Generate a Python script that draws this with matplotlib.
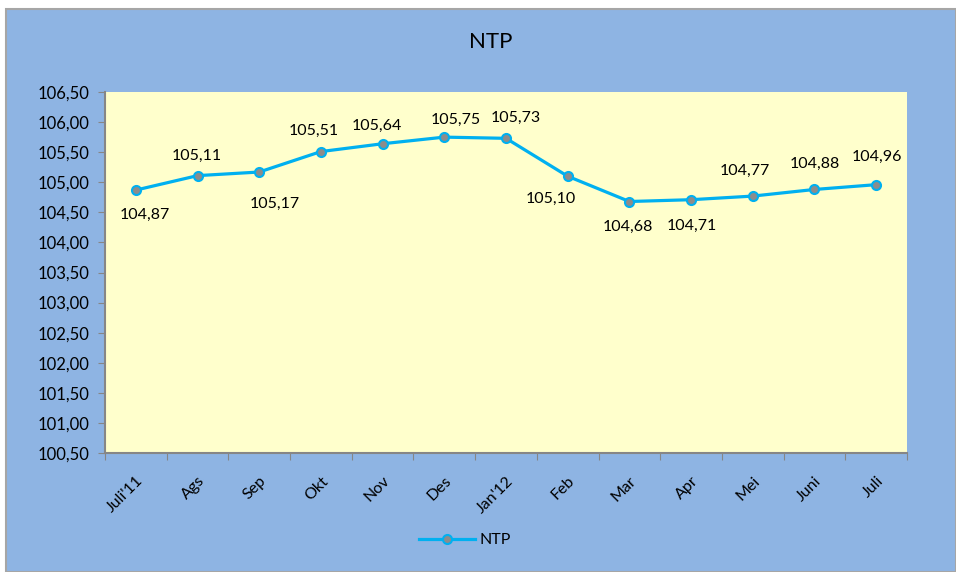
import matplotlib
matplotlib.use("Agg")
import matplotlib.pyplot as plt
from matplotlib.patches import Rectangle
from matplotlib.lines import Line2D

categories = ["Juli'11", "Ags", "Sep", "Okt", "Nov", "Des", "Jan'12",
              "Feb", "Mar", "Apr", "Mei", "Juni", "Juli"]
ntp = [104.87, 105.11, 105.17, 105.51, 105.64, 105.75, 105.73,
       105.10, 104.68, 104.71, 104.77, 104.88, 104.96]
yticks = [100.5, 101.0, 101.5, 102.0, 102.5, 103.0, 103.5, 104.0,
          104.5, 105.0, 105.5, 106.0, 106.5]

# label offsets in pixels (dx, dy), upward positive
label_offsets = [(9, -25), (-1, 20), (16, -32), (-7, 21), (-6, 18), (11, 17),
                 (10, 20), (-17, -23), (-2, -25), (1, -26), (-8, 25), (0, 26), (1, 28)]

plt.rcParams['font.family'] = ['Lato', 'DejaVu Sans']

fig = plt.figure(figsize=(9.56, 5.72), dpi=100)
fig.patch.set_facecolor('white')
bg = Rectangle((6/956, 0), 1 - 6/956, 1 - 9/572, transform=fig.transFigure,
               facecolor='#8EB4E3', edgecolor='#A6A6A6', linewidth=1.5, zorder=-10)
fig.patches.append(bg)

ax = fig.add_axes([105/956, 1 - 453/572, (907 - 105)/956, (453 - 92)/572])
ax.set_zorder(1)
ax.set_facecolor('#FFFFCC')
x = list(range(len(categories)))
ax.plot(x, ntp, color='#00B0F0', linewidth=2.3, marker='o', markersize=6.5,
        markerfacecolor='#8C8C8C', markeredgecolor='#00B0F0', markeredgewidth=1.5,
        zorder=3, clip_on=False)
for i, v in enumerate(ntp):
    dx, dy = label_offsets[i]
    ax.annotate(f"{v:.2f}".replace('.', ','), (i, v), xytext=(dx * 0.72, dy * 0.72),
                textcoords='offset points', ha='center', va='center', fontsize=11.5,
                color='black')

ax.set_xlim(-0.5, len(categories) - 0.5)
ax.set_ylim(100.5, 106.5)
ax.set_yticks(yticks)
ax.set_yticklabels([f"{t:.2f}".replace('.', ',') for t in yticks], fontsize=12)
ax.set_xticks([i - 0.5 for i in range(len(categories) + 1)], minor=False)
ax.set_xticklabels([''] * (len(categories) + 1))
ax.set_xticks(x, minor=True)
ax.set_xticklabels(categories, minor=True, rotation=45, ha='right',
                   rotation_mode='anchor', fontsize=11.5)
ax.tick_params(axis='x', which='minor', length=0, pad=15)
ax.tick_params(axis='x', which='major', length=5, color='#868686', direction='out')
ax.tick_params(axis='y', length=5, color='#868686', direction='out', pad=6)
for s in ['top', 'right']:
    ax.spines[s].set_visible(False)
for s in ['left', 'bottom']:
    ax.spines[s].set_color('#868686')
    ax.spines[s].set_linewidth(1.5)

fig.text(491/956, 1 - 42/572, "NTP", ha='center', va='center', fontsize=16)

handle = Line2D([], [], color='#00B0F0', linewidth=2.3, marker='o', markersize=6.5,
                markerfacecolor='#8C8C8C', markeredgecolor='#00B0F0', markeredgewidth=1.5)
fig.legend([handle], ["NTP"], loc='center', bbox_to_anchor=(465/956, 1 - 540/572),
           frameon=False, fontsize=11.5, handlelength=3.5, handletextpad=0.3)

fig.savefig("out.png", dpi=100)
